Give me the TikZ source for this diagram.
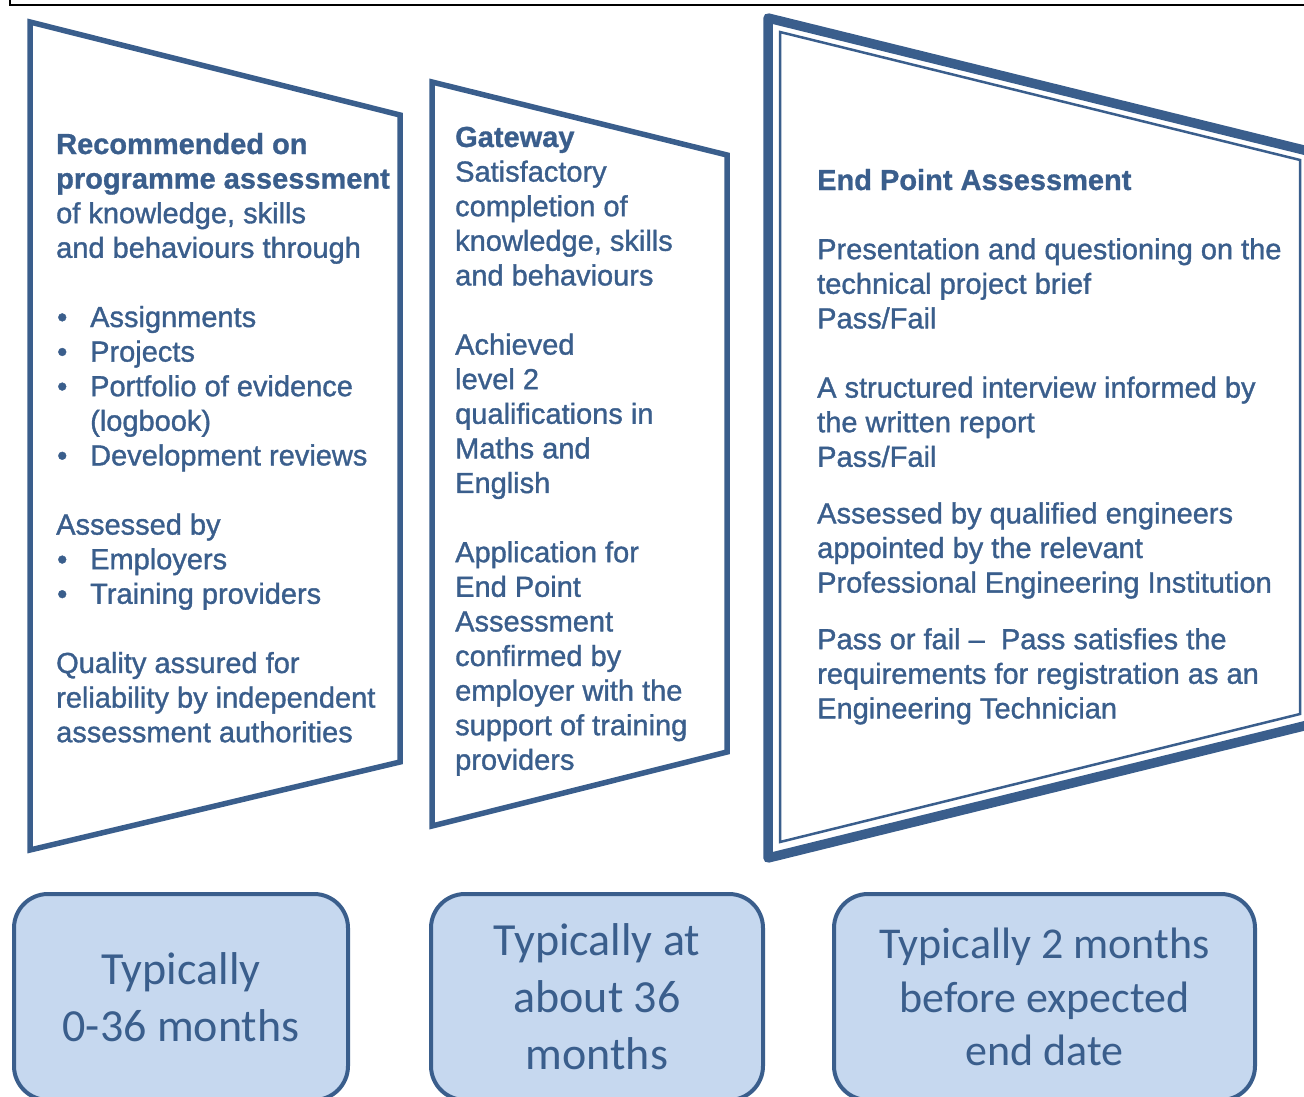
\documentclass[tikz,border=0pt]{standalone}
\usepackage{fontspec}
\setmainfont{Liberation Sans}
\newfontfamily\bodyf{Liberation Sans}[FakeBold=1.2]
\newfontfamily\headf{Liberation Sans}[UprightFont=* Bold, FakeBold=1.0]
\newfontfamily\boxf{Carlito}
\definecolor{navy}{HTML}{3A5E8C}
\definecolor{lightfill}{HTML}{C6D8EF}
\newcommand{\mybul}{\makebox[34pt][l]{\hspace{1pt}\textbullet}}
\newcommand{\myind}{\hspace{34pt}}
\tikzset{
  panel/.style={draw=navy, line width=5.5pt, line join=miter},
  panelouter/.style={draw=navy, line width=9.5pt, line join=round},
  panelinner/.style={draw=navy, line width=2.5pt, line join=miter},
  frameline/.style={draw=black, line width=1.5pt},
  coltext/.style={font=\bodyf\fontsize{29}{34.6}\selectfont, text=navy, inner sep=0pt, anchor=base west},
  tbox/.style={draw=navy, line width=4pt, fill=lightfill, rounded corners=34pt, text=navy,
    align=center, inner sep=0pt, minimum height=206pt},
  boxfontA/.style={font=\boxf\fontsize{46}{57}\selectfont},
  boxfontB/.style={font=\boxf\fontsize{44}{53.5}\selectfont}
}
\begin{document}
\begin{tikzpicture}[x=1pt,y=-1pt]
\useasboundingbox (0,0) rectangle (1304,1097);
\clip (0,0) rectangle (1304,1097);

% top frame remnant
\draw[frameline] (10,-3) -- (10,5) -- (1310,5);

% panels
\draw[panel] (30,22) -- (400,115) -- (400,762) -- (30,850) -- cycle;
\draw[panel] (432,82) -- (727,155) -- (727,752) -- (432,826) -- cycle;
\draw[panelouter] (768,18) -- (1320,154) -- (1320,722) -- (768,858) -- cycle;
\draw[panelinner] (780,32) -- (1300,160) -- (1300,714) -- (780,842) -- cycle;

% column texts
\node[coltext] (t1) at (56,154) {\begin{tabular}[t]{@{}l@{}}
{\headf Recommended on}\\
{\headf programme assessment}\\
of knowledge, skills\\
and behaviours through\\
\\
\mybul Assignments\\
\mybul Projects\\
\mybul Portfolio of evidence\\
\myind (logbook)\\
\mybul Development reviews\\
\\
Assessed by\\
\mybul Employers\\
\mybul Training providers\\
\\
Quality assured for\\
reliability by independent\\
assessment authorities
\end{tabular}};

\node[coltext] (t2) at (455,147) {\begin{tabular}[t]{@{}l@{}}
{\headf Gateway}\\
Satisfactory\\
completion of\\
knowledge, skills\\
and behaviours\\
\\
Achieved\\
level 2\\
qualifications in\\
Maths and\\
English\\
\\
Application for\\
End Point\\
Assessment\\
confirmed by\\
employer with the\\
support of training\\
providers
\end{tabular}};

\node[coltext] (t3) at (817,190) {\begin{tabular}[t]{@{}l@{}}
{\headf End Point Assessment}\\[34.6pt]
Presentation and questioning on the\\
technical project brief\\
Pass/Fail\\[34.6pt]
A structured interview informed by\\
the written report\\
Pass/Fail\\[22pt]
Assessed by qualified engineers\\
appointed by the relevant\\
Professional Engineering Institution\\[22pt]
Pass or fail –\ \ Pass satisfies the\\
requirements for registration as an\\
Engineering Technician
\end{tabular}};

% bottom boxes
\node[tbox, boxfontA, minimum width=334pt] (b1) at (181,997) {Typically\\0-36 months};
\node[tbox, boxfontA, minimum width=332pt] (b2) at (597,997) {Typically at\\about 36\\months};
\node[tbox, boxfontB, minimum width=421pt] (b3) at (1044.5,997) {Typically 2 months\\before expected\\end date};
\end{tikzpicture}
\end{document}
